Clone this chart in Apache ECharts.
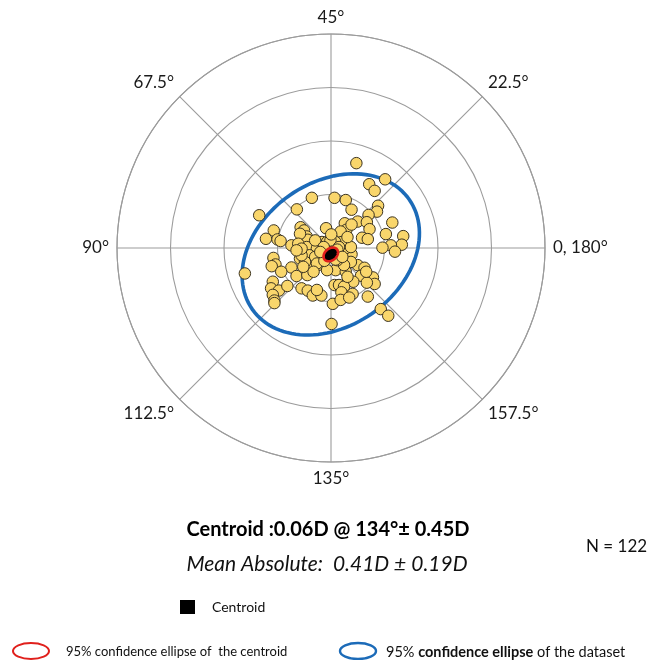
<!DOCTYPE html>
<html><head><meta charset="utf-8">
<script src="https://cdn.jsdelivr.net/npm/echarts@6/dist/echarts.min.js"></script>
<style>html,body{margin:0;padding:0;background:#fff}#c{width:647px;height:660px}</style>
</head><body><div id="c"></div>
<script>
// Double-angle plot: display angle = 2 x axis
const angleTicks = [0, 45, 90, 135, 180, 225, 270, 315];
const angleLabels = ['0, 180°', '22.5°', '45°', '67.5°', '90°', '112.5°', '135°', '157.5°'];
const radiusMax = 2.0, radiusStep = 0.5; // dioptres

// Double-angle vector components (D) of each eye: X = C·cos2θ, Y = C·sin2θ
const vecX = [0.237,0.506,0.357,0.408,-0.671,-0.319,-0.179,0.033,0.138,0.192,0.440,0.430,0.351,0.249,0.335,0.129,0.144,0.090,0.360,0.573,
0.513,0.675,0.662,0.560,0.481,0.598,0.290,0.344,-0.535,-0.608,-0.500,-0.471,-0.284,-0.252,-0.227,-0.046,-0.370,-0.275,-0.217,-0.227,
-0.132,-0.290,-0.202,-0.538,-0.519,-0.554,-0.370,-0.322,-0.465,-0.805,-0.179,-0.122,-0.221,-0.090,0.043,0.138,0.192,0.141,0.103,0.040,
0.249,0.313,0.281,0.208,0.392,0.408,0.335,-0.544,-0.560,-0.487,-0.408,-0.544,-0.529,-0.275,-0.217,-0.170,-0.090,0.033,0.075,0.122,
0.097,0.202,0.017,0.090,0.170,0.344,0.465,0.535,0.005,0.192,-0.290,-0.148,-0.084,-0.037,0.186,0.186,0.122,-0.037,-0.132,-0.243,
-0.275,-0.148,-0.005,-0.068,-0.306,0.154,0.075,0.059,0.329,0.154,-0.163,-0.259,-0.275,-0.529,-0.132,0.059,0.043,-0.062,-0.100,0.106,
0.002,-0.322];
const vecY = [0.793,0.642,0.596,0.534,0.306,0.361,0.469,0.469,0.448,0.358,0.395,0.340,0.309,0.247,0.241,0.231,0.170,0.154,0.176,0.238,
0.130,0.111,0.031,0.025,0.003,-0.034,0.096,0.083,0.164,0.086,0.080,0.065,0.194,0.164,0.108,0.185,0.025,0.065,0.077,0.009,
-0.006,-0.099,-0.068,-0.093,-0.154,-0.170,-0.182,-0.262,-0.222,-0.238,-0.170,-0.160,-0.253,-0.083,-0.207,-0.222,-0.059,0.000,0.056,0.056,
-0.160,-0.185,-0.259,-0.315,-0.275,-0.336,-0.324,-0.315,-0.377,-0.398,-0.355,-0.438,-0.491,-0.377,-0.398,-0.444,-0.444,-0.346,-0.346,-0.361,
-0.414,-0.429,-0.522,-0.485,-0.463,-0.454,-0.571,-0.633,-0.710,0.219,0.133,-0.083,0.056,0.056,0.009,-0.130,-0.160,-0.207,-0.145,-0.130,
-0.068,0.071,0.071,0.009,0.040,0.102,0.009,-0.114,-0.222,-0.269,-0.222,-0.176,-0.006,-0.515,-0.392,-0.015,-0.108,-0.120,-0.037,-0.083,
0.127,-0.022];

const centroid = [0.06, 134];           // magnitude (D), axis (deg)
const datasetEllipse = [0.895, 0.673, 35];  // semi-axes (D), orientation in double-angle plane (deg)
const centroidEllipse = [0.075, 0.055, 40];

const toPolar = (x, y) => {
  let a = Math.atan2(y, x) * 180 / Math.PI;
  if (a < 0) a += 360;
  return [Math.hypot(x, y), a];
};
const points = vecX.map((x, i) => toPolar(x, vecY[i]));
const cx = centroid[0] * Math.cos(2 * centroid[1] * Math.PI / 180);
const cy = centroid[0] * Math.sin(2 * centroid[1] * Math.PI / 180);
function ellipseOutline(e) {
  const out = [], phi = e[2] * Math.PI / 180;
  for (let t = 0; t < 360; t += 3) {
    const r = t * Math.PI / 180;
    const ex = e[0] * Math.cos(r), ey = e[1] * Math.sin(r);
    out.push(toPolar(cx + ex * Math.cos(phi) - ey * Math.sin(phi), cy + ex * Math.sin(phi) + ey * Math.cos(phi)));
  }
  return out;
}
const outerEll = ellipseOutline(datasetEllipse);
const innerEll = ellipseOutline(centroidEllipse);

const chart = echarts.init(document.getElementById('c'), null, {renderer: 'canvas'});
const grid = '#9c9c9c';
const txt = '#1a1a1a';
const FF = 'Lato, "Open Sans", sans-serif';
chart.setOption({
  animation: false,
  polar: {center: [331, 248], radius: 214},
  angleAxis: {
    type: 'value', min: 0, max: 360, interval: 45, startAngle: 0, clockwise: false,
    axisLine: {show: true, lineStyle: {color: grid, width: 1.1}},
    axisTick: {show: false},
    splitLine: {show: true, lineStyle: {color: grid, width: 1.1}},
    axisLabel: {
      margin: 8, fontSize: 17, fontFamily: FF, color: txt,
      formatter: v => { const i = angleTicks.indexOf(v); return i >= 0 ? angleLabels[i] : ''; }
    }
  },
  radiusAxis: {
    type: 'value', min: 0, max: radiusMax, interval: radiusStep,
    axisLine: {show: false}, axisTick: {show: false}, axisLabel: {show: false},
    splitLine: {show: true, lineStyle: {color: grid, width: 1.1}}
  },
  series: [
    {
      type: 'custom', coordinateSystem: 'polar', data: [[0, 0]], z: 2, silent: true,
      renderItem: (p, api) => ({type: 'polygon', shape: {points: outerEll.map(q => api.coord(q))},
        style: {fill: 'none', stroke: '#1c6bb8', lineWidth: 3.6}})
    },
    {
      type: 'scatter', coordinateSystem: 'polar', data: points, z: 3, symbolSize: 11.5,
      itemStyle: {color: '#f9d66c', borderColor: '#3b3320', borderWidth: 1, opacity: 1}
    },
    {
      type: 'custom', coordinateSystem: 'polar', data: [[0, 0]], z: 4, silent: true,
      renderItem: (p, api) => ({type: 'polygon', shape: {points: innerEll.map(q => api.coord(q))},
        style: {fill: '#000', stroke: '#e0201c', lineWidth: 2.6}})
    }
  ],
  graphic: [
    {type: 'text', x: 328, y: 530, style: {text: 'Centroid :0.06D @ 134°± 0.45D', fontSize: 20, fontWeight: 'bold', fontFamily: FF, fill: '#000', textAlign: 'center', textVerticalAlign: 'middle'}},
    {type: 'text', x: 327, y: 564, style: {text: 'Mean Absolute:  0.41D ± 0.19D', fontSize: 21, fontStyle: 'italic', fontFamily: FF, fill: '#111', textAlign: 'center', textVerticalAlign: 'middle'}},
    {type: 'text', x: 586, y: 547, style: {text: 'N = ' + vecX.length, fontSize: 17, fontFamily: FF, fill: '#111', textAlign: 'left', textVerticalAlign: 'middle'}},
    {type: 'rect', shape: {x: 180, y: 600, width: 15, height: 14}, style: {fill: '#000'}},
    {type: 'text', x: 212, y: 607, style: {text: 'Centroid', fontSize: 14, fontFamily: FF, fill: '#111', textAlign: 'left', textVerticalAlign: 'middle'}},
    {type: 'ellipse', shape: {cx: 31, cy: 651, rx: 18, ry: 8}, style: {fill: 'none', stroke: '#e0201c', lineWidth: 2}},
    {type: 'text', x: 66, y: 652, style: {text: '95% confidence ellipse of  the centroid', fontSize: 13, fontFamily: FF, fill: '#111', textAlign: 'left', textVerticalAlign: 'middle'}},
    {type: 'ellipse', shape: {cx: 358, cy: 651, rx: 18, ry: 8}, style: {fill: 'none', stroke: '#1c6bb8', lineWidth: 2.4}},
    {type: 'text', x: 386, y: 652, style: {text: '95% {b|confidence ellipse} of the dataset', fontSize: 14.5, fontFamily: FF, fill: '#111', textAlign: 'left', textVerticalAlign: 'middle',
      rich: {b: {fontSize: 14.5, fontFamily: FF, fontWeight: 'bold', fill: '#111'}}}}
  ]
});
</script></body></html>
